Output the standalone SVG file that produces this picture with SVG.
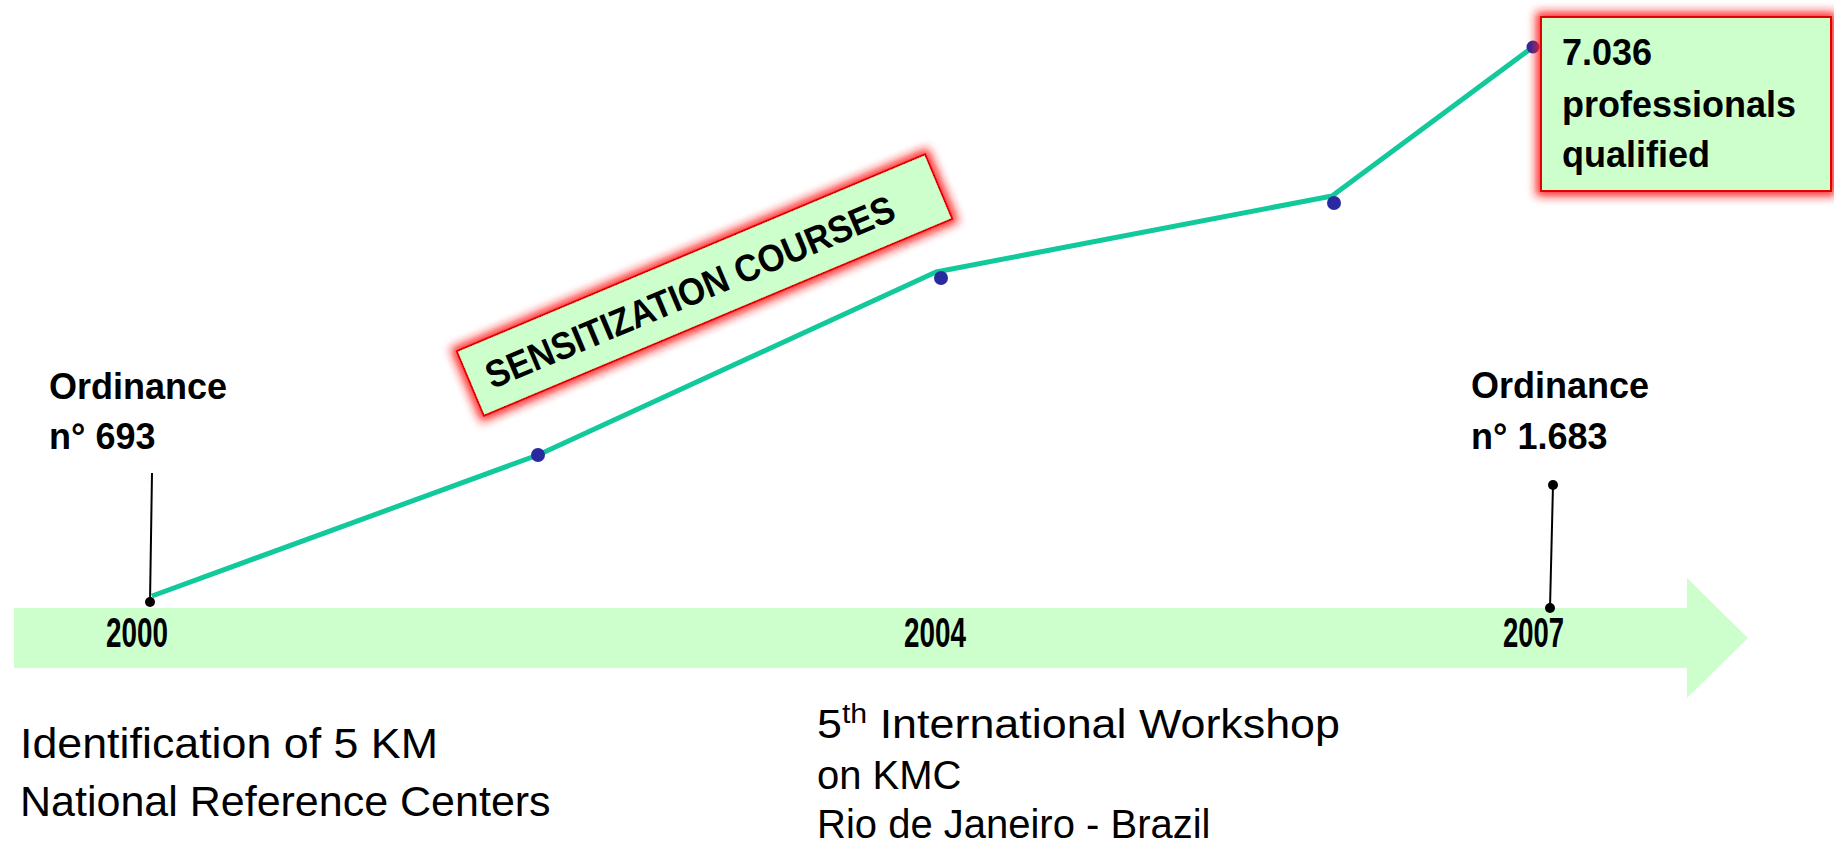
<svg xmlns="http://www.w3.org/2000/svg" width="1834" height="855" viewBox="0 0 1834 855">
  <defs>
    <filter id="glow" x="-20%" y="-50%" width="140%" height="200%">
      <feMorphology in="SourceAlpha" operator="dilate" radius="4" result="d"/>
      <feGaussianBlur in="d" stdDeviation="5" result="b"/>
      <feFlood flood-color="#ff1a1a" flood-opacity="0.95"/>
      <feComposite in2="b" operator="in" result="g"/>
      <feMerge>
        <feMergeNode in="g"/>
        <feMergeNode in="SourceGraphic"/>
      </feMerge>
    </filter>
  </defs>
  <style>
    .band { fill: #ccffcc; }
    .year { font-family: "Liberation Sans", Arial, sans-serif; font-weight: bold; font-size: 42px; fill: #000; }
    .lbl { font-family: "Liberation Sans", Arial, sans-serif; font-weight: bold; font-size: 36px; fill: #000; }
    .desc { font-family: "Liberation Sans", Arial, sans-serif; font-size: 43px; fill: #000; }
    .desc2 { font-family: "Liberation Sans", Arial, sans-serif; font-size: 40px; fill: #000; }
    .box { fill: #ccffcc; stroke: #e00000; stroke-width: 2; }
    .trend { fill: none; stroke: #12c99b; stroke-width: 5; stroke-linejoin: round; }
    .pt { fill: #2a2aa0; }
    .pin { stroke: #000; stroke-width: 2; fill: none; }
    .pindot { fill: #000; }
  </style>

  <g id="timeline">
    <path class="band" d="M14,608 H1687 V578 L1748,638 L1687,698 V668 H14 Z"/>
    <text class="year" x="106" y="647" textLength="62" lengthAdjust="spacingAndGlyphs">2000</text>
    <text class="year" x="904" y="647" textLength="62" lengthAdjust="spacingAndGlyphs">2004</text>
    <text class="year" x="1503" y="647" textLength="61" lengthAdjust="spacingAndGlyphs">2007</text>
  </g>

  <g id="connectors">
    <polyline class="trend" points="152,596 538,455 936,272 1332,196 1533,47"/>
    <circle class="pt" cx="538" cy="455" r="7"/>
    <circle class="pt" cx="941" cy="278" r="7"/>
    <circle class="pt" cx="1334" cy="203" r="7"/>
    <circle class="pt" cx="1533" cy="47" r="6.5"/>
    <line class="pin" x1="152" y1="473" x2="150" y2="602"/>
    <circle class="pindot" cx="150" cy="602" r="5"/>
    <line class="pin" x1="1553" y1="485" x2="1550" y2="608"/>
    <circle class="pindot" cx="1553" cy="485" r="5"/>
    <circle class="pindot" cx="1550" cy="608" r="5"/>
  </g>

  <g id="ordinance-693">
    <text class="lbl" x="49" y="399">Ordinance</text>
    <text class="lbl" x="49" y="449">n° 693</text>
  </g>

  <g id="ordinance-1683">
    <text class="lbl" x="1471" y="398">Ordinance</text>
    <text class="lbl" x="1471" y="449">n° 1.683</text>
  </g>

  <g id="sensitization">
    <g transform="translate(704.5,285) rotate(-22.8)">
      <rect class="box" x="-254" y="-35" width="508" height="70" filter="url(#glow)"/>
      <text class="lbl" x="-16" y="14" text-anchor="middle" style="font-size:38px" textLength="440" lengthAdjust="spacingAndGlyphs">SENSITIZATION COURSES</text>
    </g>
  </g>

  <g id="qualified">
    <rect class="box" x="1541" y="17" width="290" height="174" filter="url(#glow)"/>
    <text class="lbl" x="1562" y="65">7.036</text>
    <text class="lbl" x="1562" y="117">professionals</text>
    <text class="lbl" x="1562" y="167">qualified</text>
  </g>

  <g id="identification">
    <text class="desc" x="20" y="758" textLength="418" lengthAdjust="spacingAndGlyphs">Identification of 5 KM</text>
    <text class="desc" x="20" y="816">National Reference Centers</text>
  </g>

  <g id="workshop">
    <text class="desc2" x="817" y="738" textLength="523" lengthAdjust="spacingAndGlyphs">5<tspan dy="-15" font-size="27">th</tspan><tspan dy="15"> International Workshop</tspan></text>
    <text class="desc2" x="817" y="789">on KMC</text>
    <text class="desc2" x="817" y="838">Rio de Janeiro - Brazil</text>
  </g>
</svg>
